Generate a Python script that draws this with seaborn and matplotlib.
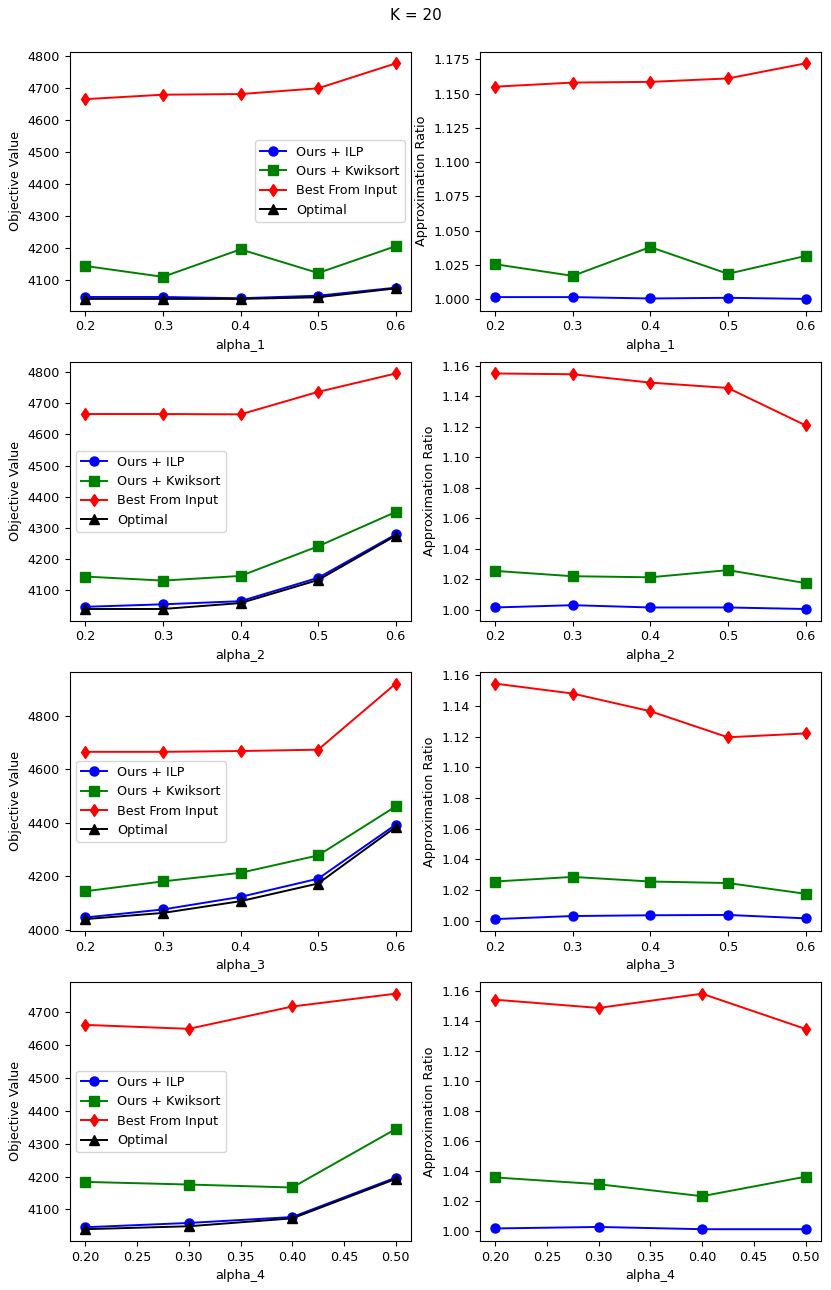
import matplotlib
matplotlib.use("Agg")
import matplotlib.pyplot as plt
import seaborn as sns

# alpha sweeps, K = 20
alpha_a = [0.2, 0.3, 0.4, 0.5, 0.6]
alpha_b = [0.2, 0.3, 0.4, 0.5]

# objective values per sweep
ilp_1 = [4046, 4046, 4042, 4050, 4075]
kwik_1 = [4143, 4109, 4195, 4121, 4205]
best_1 = [4665, 4679, 4681, 4699, 4777]
opt_1 = [4040, 4040, 4040, 4045, 4073]

ilp_2 = [4047, 4055, 4065, 4140, 4279]
kwik_2 = [4144, 4131, 4146, 4241, 4351]
best_2 = [4665, 4665, 4664, 4736, 4795]
opt_2 = [4040, 4040, 4059, 4133, 4275]

ilp_3 = [4046, 4076, 4123, 4191, 4393]
kwik_3 = [4144, 4181, 4213, 4278, 4461]
best_3 = [4665, 4665, 4668, 4673, 4920]
opt_3 = [4040, 4063, 4107, 4173, 4384]

ilp_4 = [4046, 4059, 4077, 4197]
kwik_4 = [4184, 4176, 4167, 4345]
best_4 = [4662, 4650, 4718, 4757]
opt_4 = [4040, 4049, 4073, 4193]

# approximation ratios per sweep
r_ilp_1 = [1.0015, 1.0015, 1.0005, 1.001, 1.0002]
r_kwik_1 = [1.0255, 1.017, 1.038, 1.0185, 1.0315]
r_best_1 = [1.155, 1.158, 1.1585, 1.161, 1.172]

r_ilp_2 = [1.0015, 1.003, 1.0015, 1.0015, 1.0005]
r_kwik_2 = [1.0255, 1.022, 1.0213, 1.026, 1.0175]
r_best_2 = [1.155, 1.1545, 1.149, 1.1455, 1.121]

r_ilp_3 = [1.001, 1.003, 1.0035, 1.0037, 1.0015]
r_kwik_3 = [1.0255, 1.0285, 1.0255, 1.0245, 1.0175]
r_best_3 = [1.1545, 1.148, 1.1365, 1.1195, 1.122]

r_ilp_4 = [1.0015, 1.0025, 1.001, 1.001]
r_kwik_4 = [1.0355, 1.031, 1.023, 1.036]
r_best_4 = [1.154, 1.1485, 1.158, 1.1345]

sweeps = [
    ("alpha_1", alpha_a, ilp_1, kwik_1, best_1, opt_1, r_ilp_1, r_kwik_1, r_best_1, "center right"),
    ("alpha_2", alpha_a, ilp_2, kwik_2, best_2, opt_2, r_ilp_2, r_kwik_2, r_best_2, "center left"),
    ("alpha_3", alpha_a, ilp_3, kwik_3, best_3, opt_3, r_ilp_3, r_kwik_3, r_best_3, "center left"),
    ("alpha_4", alpha_b, ilp_4, kwik_4, best_4, opt_4, r_ilp_4, r_kwik_4, r_best_4, "center left"),
]

plt.rcParams["font.size"] = 9.2


def draw(ax, x, y, color, marker, label=None):
    sns.lineplot(x=x, y=y, ax=ax, color=color, marker=marker, markersize=6.5,
                 linewidth=1.4, markeredgecolor=color, markeredgewidth=1,
                 label=label, legend=label is not None)


fig, axes = plt.subplots(4, 2, figsize=(8.31, 12.9), dpi=100)
fig.suptitle("K = 20", y=0.988, va="center", fontsize=11)

for row, (name, x, ilp, kwik, best, opt, r_ilp, r_kwik, r_best, loc) in enumerate(sweeps):
    ax = axes[row, 0]
    draw(ax, x, ilp, "b", "o", "Ours + ILP")
    draw(ax, x, kwik, "g", "s", "Ours + Kwiksort")
    draw(ax, x, best, "r", "d", "Best From Input")
    draw(ax, x, opt, "k", "^", "Optimal")
    ax.set_xlabel(name)
    ax.set_ylabel("Objective Value")
    ax.legend(loc=loc)

    ax = axes[row, 1]
    draw(ax, x, r_ilp, "b", "o")
    draw(ax, x, r_kwik, "g", "s")
    draw(ax, x, r_best, "r", "d")
    ax.set_xlabel(name)
    ax.set_ylabel("Approximation Ratio")

fig.subplots_adjust(left=0.084, right=0.988, top=0.96, bottom=0.038,
                    wspace=0.2, hspace=0.197)
plt.savefig("out.png")
